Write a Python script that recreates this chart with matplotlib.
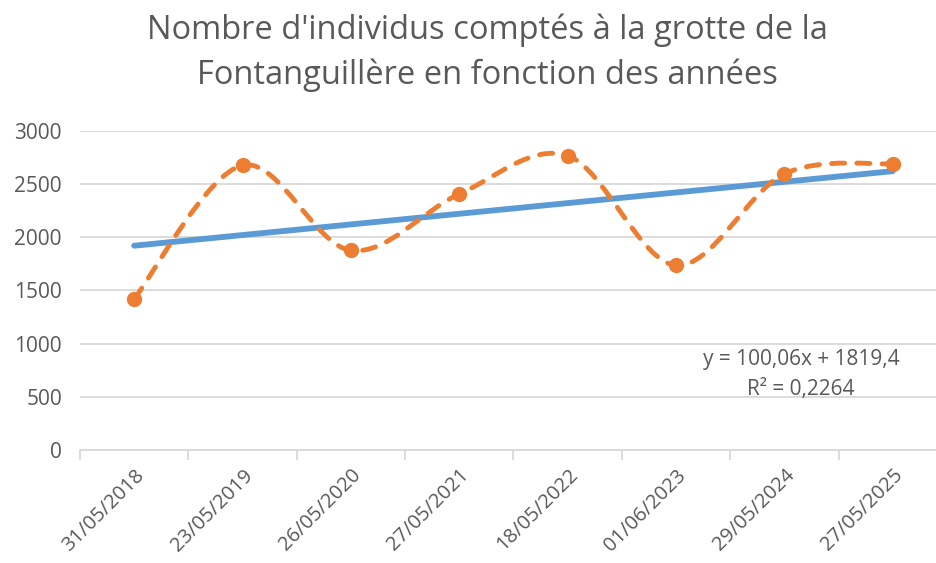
import numpy as np
import matplotlib
matplotlib.use("Agg")
import matplotlib.pyplot as plt
from matplotlib.path import Path

# ---- data ----
categories = ["31/05/2018", "23/05/2019", "26/05/2020", "27/05/2021",
              "18/05/2022", "01/06/2023", "29/05/2024", "27/05/2025"]
counts = [1420, 2675, 1875, 2405, 2765, 1735, 2595, 2690]
trend_slope = 100.06
trend_intercept = 1819.4
eq_text = "y = 100,06x + 1819,4"
r2_text = "R² = 0,2264"
title = "Nombre d'individus comptés à la grotte de la\nFontanguillère en fonction des années"
yticks = [0, 500, 1000, 1500, 2000, 2500, 3000]

FONT = ["Open Sans", "DejaVu Sans"]
TXT = "#595959"
GRID = "#D9D9D9"
ORANGE = "#ED7D31"
BLUE = "#5B9BD5"

W, H = 937, 563
fig = plt.figure(figsize=(W / 100, H / 100), dpi=100)
ax = fig.add_axes([80 / W, 1 - 450 / H, (947 - 80) / W, (450 - 130.7) / H])

n = len(categories)
xs = np.arange(1, n + 1)
ax.set_xlim(0.5, n + 0.5)
ax.set_ylim(0, 3000)

# grid & spines
for s in ["top", "right", "left"]:
    ax.spines[s].set_visible(False)
ax.spines["bottom"].set_color(GRID)
ax.spines["bottom"].set_linewidth(1.3)
ax.set_yticks(yticks)
ax.yaxis.grid(True, color=GRID, linewidth=1.3)
ax.set_axisbelow(True)
ax.tick_params(axis="y", length=0, pad=13, labelsize=15, labelcolor=TXT)
for lab in ax.get_yticklabels():
    lab.set_family(FONT)

ax.set_xticks(xs)
ax.set_xticklabels(categories, rotation=45, ha="right", va="top",
                   rotation_mode="anchor", family=FONT, fontsize=14.5, color=TXT)
ax.tick_params(axis="x", length=0, pad=11)
ax.set_xticks(np.arange(0.5, n + 1.5, 1), minor=True)
ax.tick_params(axis="x", which="minor", length=7, width=1.3, color=GRID)

# trendline
trend = trend_slope * xs + trend_intercept
ax.plot(xs, trend, color=BLUE, linewidth=4.2, solid_capstyle="round",
        zorder=3, clip_on=False)

# smoothed series (Catmull-Rom Bezier in display space, like Excel)
pts = ax.transData.transform(np.column_stack([xs, counts]))
verts = [pts[0]]
codes = [Path.MOVETO]
for i in range(n - 1):
    p0 = pts[i - 1] if i > 0 else pts[i]
    p1 = pts[i]
    p2 = pts[i + 1]
    p3 = pts[i + 2] if i + 2 < n else pts[i + 1]
    c1 = p1 + (p2 - p0) / 6
    c2 = p2 - (p3 - p1) / 6
    verts += [c1, c2, p2]
    codes += [Path.CURVE4] * 3
path = Path(np.array(verts), codes)
poly = path.to_polygons(closed_only=False)[0]
data_poly = ax.transData.inverted().transform(poly)
ln, = ax.plot(data_poly[:, 0], data_poly[:, 1], color=ORANGE, linewidth=3.5,
              dash_capstyle="round", zorder=4, clip_on=False)
ln.set_dashes([2.7, 2.5])
ax.plot(xs, counts, linestyle="none", marker="o", markersize=10,
        color=ORANGE, zorder=5, clip_on=False)

# equation
fig.text(801 / W, 1 - 360 / H, eq_text, ha="center", va="center",
         family=FONT, fontsize=15, color=TXT)
fig.text(801 / W, 1 - 389 / H, r2_text, ha="center", va="center",
         family=FONT, fontsize=15, color=TXT)

# title
fig.text(487 / W, 1 - 30 / H, title.split("\n")[0], ha="center", va="center",
         family=FONT, fontsize=23.5, color=TXT)
fig.text(487 / W, 1 - 75 / H, title.split("\n")[1], ha="center", va="center",
         family=FONT, fontsize=23.5, color=TXT)

fig.savefig("out.png", dpi=100, facecolor="white")
